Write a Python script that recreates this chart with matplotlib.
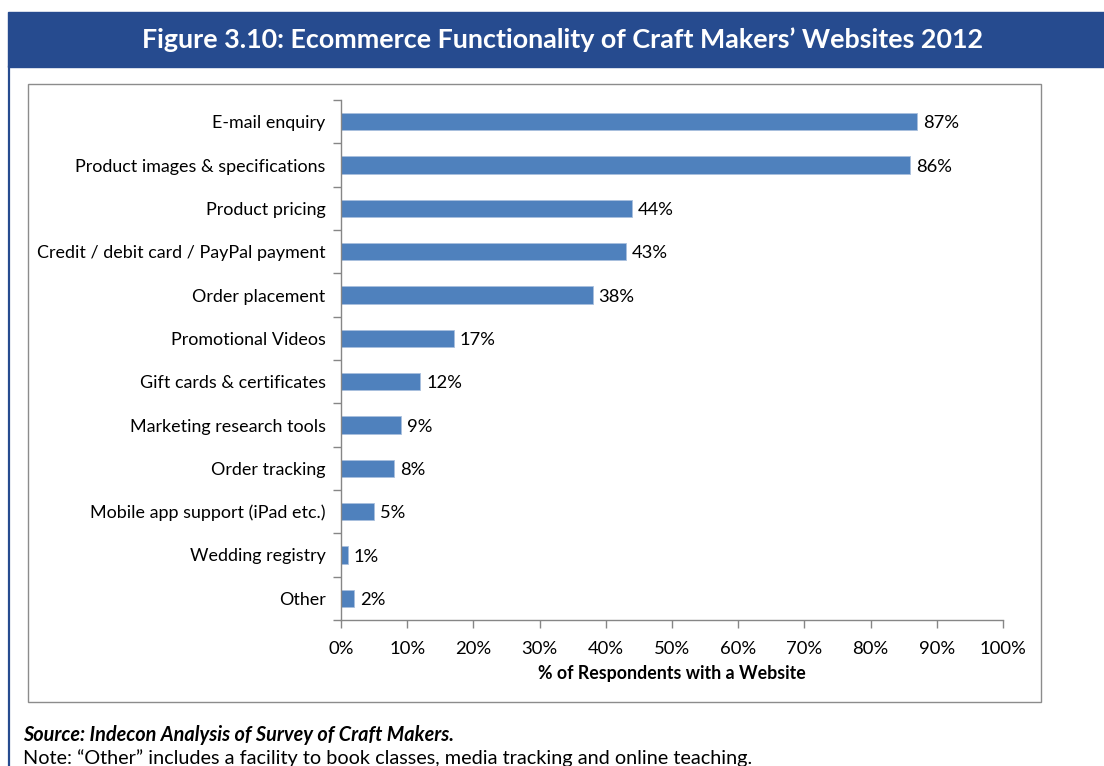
import matplotlib.pyplot as plt
from matplotlib.patches import Rectangle
from matplotlib.lines import Line2D
from matplotlib.ticker import FuncFormatter

# Funcionalidades y porcentaje de encuestados con web
features = [
    "E-mail enquiry",
    "Product images & specifications",
    "Product pricing",
    "Credit / debit card / PayPal payment",
    "Order placement",
    "Promotional Videos",
    "Gift cards & certificates",
    "Marketing research tools",
    "Order tracking",
    "Mobile app support (iPad etc.)",
    "Wedding registry",
    "Other",
]
pct = [87, 86, 44, 43, 38, 17, 12, 9, 8, 5, 1, 2]
xticks = list(range(0, 101, 10))

plt.rcParams['font.family'] = ['Lato', 'DejaVu Sans']

W, H = 1104, 766
fig = plt.figure(figsize=(W / 100, H / 100), dpi=100)

navy = '#264B8F'
# barra del título y borde izquierdo
fig.patches.append(Rectangle((8 / W, 1 - 67 / H), (W - 8) / W, 55 / H,
                             transform=fig.transFigure, color=navy, zorder=-2))
fig.lines.append(Line2D([9 / W, 9 / W], [0, 1 - 67 / H], transform=fig.transFigure,
                        color=navy, lw=1.6))
fig.text(0.51, 1 - 40 / H, "Figure 3.10: Ecommerce Functionality of Craft Makers\u2019 Websites 2012",
         color='white', fontsize=19.4, fontweight='bold', ha='center', va='center')

# marco del gráfico
fig.patches.append(Rectangle((28 / W, 1 - 702 / H), 1013 / W, 618 / H,
                             transform=fig.transFigure, facecolor='none',
                             edgecolor='#8C8C8C', lw=1.0, zorder=-2))

ax = fig.add_axes([341 / W, 1 - 620 / H, 662 / W, 520 / H])
ax.set_facecolor('none')

y = list(range(len(features)))
ax.barh(y, pct, height=0.4, color='#4F81BD', edgecolor='#A9C0DE', linewidth=0.6)
for yi, v in zip(y, pct):
    ax.text(v + 0.9, yi, f"{v}%", va='center_baseline', ha='left', fontsize=13.2, color='black')

ax.set_xlim(0, 100)
ax.set_ylim(len(features) - 0.5, -0.5)

# ticks del eje de categorías entre barras, etiquetas en el centro
ax.set_yticks([i - 0.5 for i in range(len(features) + 1)])
ax.set_yticklabels([])
ax.set_yticks(y, minor=True)
ax.set_yticklabels(features, minor=True, fontsize=12.9)
ax.tick_params(axis='y', which='major', length=6, color='#868686', width=1)
ax.tick_params(axis='y', which='minor', length=0, pad=11)

ax.set_xticks(xticks)
ax.xaxis.set_major_formatter(FuncFormatter(lambda v, p: f"{v:.0f}%"))
ax.tick_params(axis='x', length=6, color='#868686', width=1, labelsize=13.3, pad=9)
ax.set_xlabel("% of Respondents with a Website", fontsize=12.8, fontweight='bold', labelpad=6)

for s in ['top', 'right']:
    ax.spines[s].set_visible(False)
for s in ['left', 'bottom']:
    ax.spines[s].set_color('#868686')
    ax.spines[s].set_linewidth(1)

fig.text(23 / W, 1 - 735 / H, "Source: Indecon Analysis of Survey of Craft Makers.",
         fontsize=14.3, fontweight='bold', fontstyle='italic', ha='left', va='center')
fig.text(23 / W, 1 - 758 / H,
         "Note: \u201cOther\u201d includes a facility to book classes, media tracking and online teaching.",
         fontsize=14.3, ha='left', va='center')

fig.savefig('out.png', dpi=100)
